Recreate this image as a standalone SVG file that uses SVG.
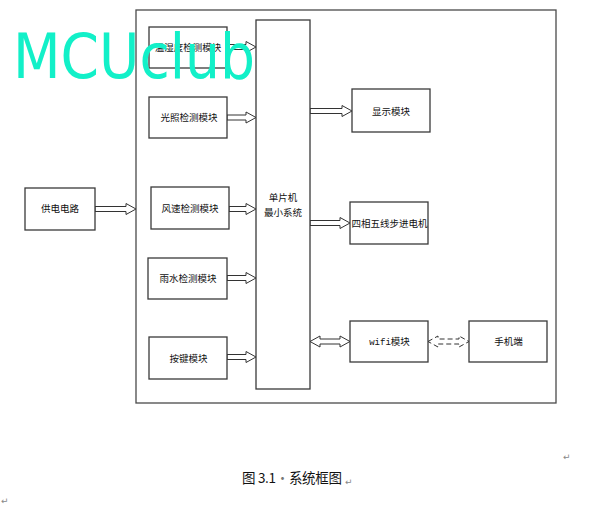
<svg xmlns="http://www.w3.org/2000/svg" width="603" height="512" viewBox="0 0 603 512">
<style>
.box{fill:#fff;stroke:#3a3a3a;stroke-width:1.3}
.outer{fill:none;stroke:#4a4a4a;stroke-width:1.3}
.lbl{font-family:"Noto Sans CJK SC","Noto Sans",sans-serif;font-size:9.5px;fill:#111;text-anchor:middle}
.arr{fill:#fff;stroke:#333;stroke-width:1}
.dash{fill:none;stroke:#333;stroke-width:1;stroke-dasharray:5,3}
.mark{font-family:"DejaVu Sans",sans-serif;font-size:9px;fill:#888}
</style>
<rect width="603" height="512" fill="#fff"/>
<rect class="outer" x="136" y="10" width="420" height="393"/>
<g id="connectors">
<path class="arr" d="M227,44.5 L246,44.5 L246,41.5 L256,47 L246,52.5 L246,49.5 L227,49.5 Z"/>
<path class="arr" d="M227,115 L246,115 L246,112 L256,117.5 L246,123 L246,120 L227,120 Z"/>
<path class="arr" d="M229,206.5 L246,206.5 L246,203.5 L256,209 L246,214.5 L246,211.5 L229,211.5 Z"/>
<path class="arr" d="M227,275.5 L246,275.5 L246,272.5 L256,278 L246,283.5 L246,280.5 L227,280.5 Z"/>
<path class="arr" d="M227,354.5 L246,354.5 L246,351.5 L256,357 L246,362.5 L246,359.5 L227,359.5 Z"/>
<path class="arr" d="M95,206.5 L126,206.5 L126,203.5 L136,209 L126,214.5 L126,211.5 L95,211.5 Z"/>
<path class="arr" d="M310,108.5 L342,108.5 L342,105.5 L352,111 L342,116.5 L342,113.5 L310,113.5 Z"/>
<path class="arr" d="M310,220.5 L340,220.5 L340,217.5 L350,223 L340,228.5 L340,225.5 L310,225.5 Z"/>
<path class="arr" d="M310,341.5 L320,336 L320,339 L340,339 L340,336 L350,341.5 L340,347 L340,344 L320,344 L320,347 Z"/>
<path class="dash" d="M428,341.5 L438,336 L438,339 L459,339 L459,336 L469,341.5 L459,347 L459,344 L438,344 L438,347 Z"/>
</g>
<g id="n-wsd"><rect class="box" x="149" y="27" width="78" height="41"/><text class="lbl" x="188" y="51">温湿度检测模块</text></g>
<g id="n-gz"><rect class="box" x="149" y="97" width="78" height="41"/><text class="lbl" x="189" y="121">光照检测模块</text></g>
<g id="n-fs"><rect class="box" x="151" y="187" width="78" height="42"/><text class="lbl" x="190" y="212">风速检测模块</text></g>
<g id="n-ys"><rect class="box" x="148" y="258" width="79" height="41"/><text class="lbl" x="188" y="282">雨水检测模块</text></g>
<g id="n-aj"><rect class="box" x="149" y="337" width="78" height="42"/><text class="lbl" x="188.5" y="361.5">按键模块</text></g>
<g id="n-gd"><rect class="box" x="25" y="188" width="70" height="42"/><text class="lbl" x="60" y="212">供电电路</text></g>
<g id="n-mcu"><rect class="box" x="256" y="20" width="54" height="369"/><text class="lbl" x="283" y="200.5">单片机</text><text class="lbl" x="283" y="215.5">最小系统</text></g>
<g id="n-xs"><rect class="box" x="352" y="89" width="78" height="43"/><text class="lbl" x="391" y="114.5">显示模块</text></g>
<g id="n-dj"><rect class="box" x="350" y="202" width="78" height="42"/><text class="lbl" x="389.5" y="226.5">四相五线步进电机</text></g>
<g id="n-wifi"><rect class="box" x="350" y="321" width="78" height="41"/><text class="lbl" x="389.5" y="345"><tspan font-family="Liberation Mono,monospace" font-size="9">wifi</tspan>模块</text></g>
<g id="n-sj"><rect class="box" x="469" y="321" width="78" height="41"/><text class="lbl" x="508.5" y="345">手机端</text></g>
<text x="242" y="483" font-family="Noto Sans CJK SC,Noto Sans,sans-serif" font-size="13.5" fill="#111" textLength="100" lengthAdjust="spacing">图 3.1<tspan fill="#777">·</tspan>系统框图</text>
<text class="mark" x="345" y="485">↵</text>
<text class="mark" x="563" y="460">↵</text>
<text class="mark" x="1" y="504">↵</text>
<text x="13" y="78" font-family="DejaVu Sans,sans-serif" font-size="62" fill="#12f0c8" textLength="242" lengthAdjust="spacingAndGlyphs">MCUclub</text>
</svg>
